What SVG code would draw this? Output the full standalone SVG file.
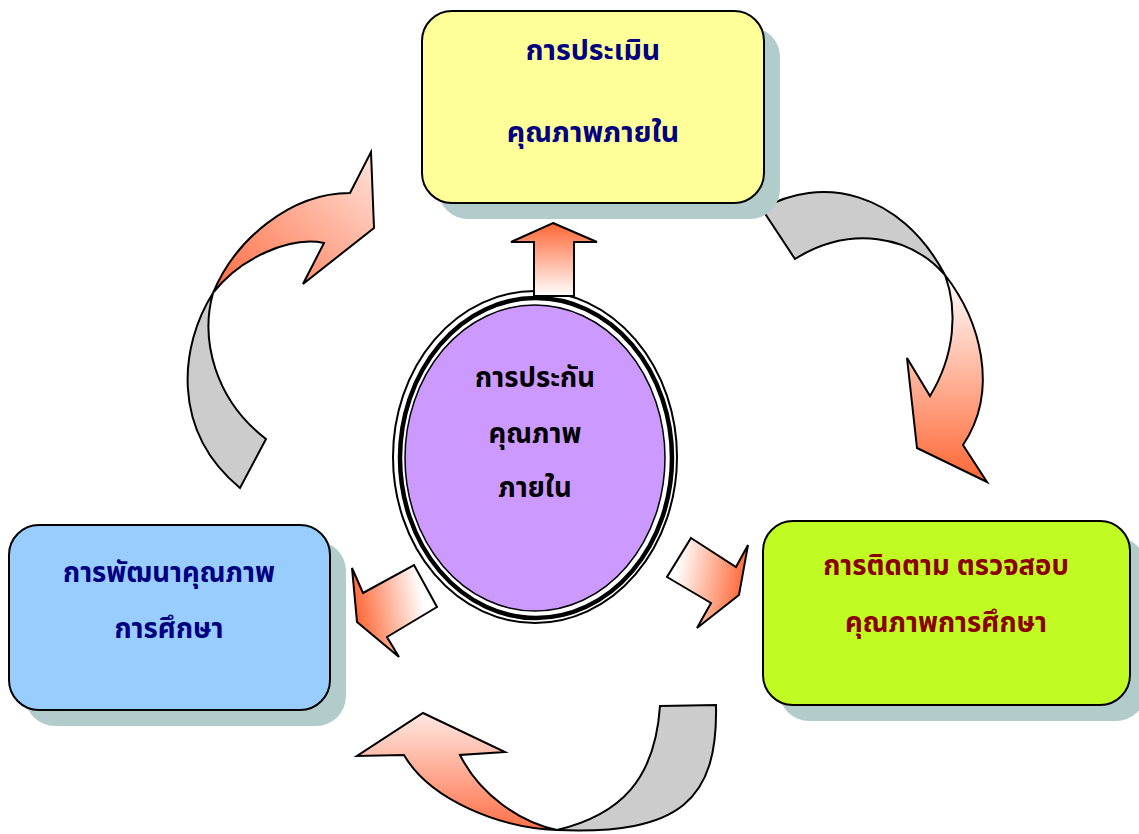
<svg xmlns="http://www.w3.org/2000/svg" width="1139" height="834" viewBox="0 0 1139 834">
<style>
.box{stroke:#000;stroke-width:2}
.shadow{fill:#b2cccc}
.t{font-family:Tahoma,"Noto Sans Thai","Noto Sans","DejaVu Sans",sans-serif;font-weight:bold;font-size:27.5px;text-anchor:middle}
.big{font-size:28.5px}
.navy{fill:#000080}
.maroon{fill:#8b0000}
.blk{fill:#000}
.arr{stroke:#000;stroke-width:2;stroke-linejoin:miter}
.gray{fill:#cccccc}
</style>
<defs>
<linearGradient id="gTL" x1="0" y1="1" x2="1" y2="0"><stop offset="0" stop-color="#ff6a40"/><stop offset="1" stop-color="#ffe4dc"/></linearGradient>
<linearGradient id="gR" x1="0" y1="0" x2="0" y2="1"><stop offset="0" stop-color="#ffffff"/><stop offset="1" stop-color="#ff6633"/></linearGradient>
<linearGradient id="gB" x1="0" y1="0" x2="0" y2="1"><stop offset="0" stop-color="#ffe8e2"/><stop offset="1" stop-color="#ff7048"/></linearGradient>
<linearGradient id="gUp" x1="0" y1="0" x2="0" y2="1"><stop offset="0" stop-color="#ff6633"/><stop offset="1" stop-color="#ffffff"/></linearGradient>
<linearGradient id="gSL" x1="0" y1="0.6" x2="1" y2="0.4"><stop offset="0.05" stop-color="#ff6633"/><stop offset="0.85" stop-color="#ffffff"/></linearGradient>
<linearGradient id="gSR" x1="0" y1="0.4" x2="1" y2="0.6"><stop offset="0.1" stop-color="#ffffff"/><stop offset="0.95" stop-color="#ff6633"/></linearGradient>
</defs>

<g id="connectors">
  <g id="curve-top-left">
    <path class="arr gray" d="M213,293 C180,345 170,430 240,488 L266,439 C215,400 200,340 213,293 Z"/>
    <path class="arr" fill="url(#gTL)" d="M213,293 C235,240 290,193 350,193 L371,152 L374,228 L303,284 L324,243 C290,236 240,258 213,293 Z"/>
  </g>
  <g id="curve-right">
    <path class="arr gray" d="M762,209 C820,175 900,190 945,275 C910,235 850,225 795,259 Z"/>
    <path class="arr" fill="url(#gR)" d="M945,275 C980,320 1000,390 963,445 L987,482 L917,448 L907,358 L930,396 C955,355 958,310 945,275 Z"/>
  </g>
  <g id="curve-bottom">
    <path class="arr gray" d="M660,706 L716,705 C718,800 680,835 557,830 C620,815 655,780 660,706 Z"/>
    <path class="arr" fill="url(#gB)" d="M557,830 C500,828 430,800 404,755 L357,756 L423,713 L505,752 L460,755 C480,795 520,822 557,830 Z"/>
  </g>
</g>

<g id="node-top">
  <rect class="shadow" x="438" y="27" width="342" height="192" rx="30"/>
  <rect class="box" x="422" y="11" width="342" height="192" rx="30" fill="#ffff99"/>
  <text class="t big navy" x="593" y="60">การประเมิน</text>
  <text class="t big navy" x="593" y="142">คุณภาพภายใน</text>
</g>

<g id="node-left">
  <rect class="shadow" x="25" y="541" width="321" height="185" rx="30"/>
  <rect class="box" x="9" y="525" width="321" height="185" rx="30" fill="#99ccff"/>
  <text class="t navy" x="169" y="582">การพัฒนาคุณภาพ</text>
  <text class="t navy" x="169" y="638">การศึกษา</text>
</g>

<g id="node-right">
  <rect class="shadow" x="779" y="537" width="367" height="184" rx="30"/>
  <rect class="box" x="763" y="521" width="367" height="184" rx="30" fill="#c0fc24"/>
  <text class="t maroon" x="946" y="575">การติดตาม ตรวจสอบ</text>
  <text class="t maroon" x="946" y="632">คุณภาพการศึกษา</text>
</g>

<g id="node-center">
  <ellipse cx="535" cy="457" rx="142" ry="166" fill="#fff" stroke="#000" stroke-width="2"/>
  <ellipse cx="536" cy="458" rx="136" ry="160" fill="none" stroke="#000" stroke-width="4.5"/>
  <ellipse cx="535" cy="458" rx="130" ry="153" fill="#cc99ff" stroke="#000" stroke-width="1.5"/>
  <text class="t blk" x="535" y="387">การประกัน</text>
  <text class="t blk" x="535" y="443">คุณภาพ</text>
  <text class="t blk" x="535" y="497">ภายใน</text>
</g>

<g id="small-arrows">
  <path class="arr" fill="url(#gUp)" d="M553,223 L597,242 L574,242 L574,296 L534,296 L534,242 L511,242 Z"/>
  <path class="arr" fill="url(#gSL)" d="M352,568 L363,593 L414,565 L437,607 L387,637 L399,657 L357,622 Z"/>
  <path class="arr" fill="url(#gSR)" d="M691,538 L736,567 L748,545 L739,595 L697,628 L711,603 L667,577 Z"/>
</g>
</svg>
